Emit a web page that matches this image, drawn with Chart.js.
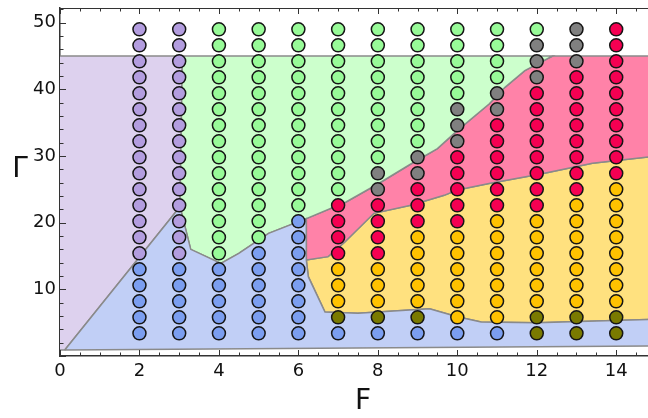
<!DOCTYPE html>
<html><head><meta charset="utf-8">
<script src="https://cdn.jsdelivr.net/npm/chart.js@4/dist/chart.umd.min.js"></script>
<style>html,body{margin:0;padding:0;background:#fff;overflow:hidden}#wrap{width:648px;height:418px;position:relative;overflow:hidden}</style>
</head><body><div id="wrap"><canvas id="c" width="656" height="418"></canvas></div>
<script>
// ---- data ----
const F_VALUES = [2,3,4,5,6,7,8,9,10,11,12,13,14];
const GAMMA_VALUES = [3.4,5.8,8.2,10.6,13.0,15.4,17.8,20.2,22.6,25.0,27.4,29.8,32.2,34.6,37.0,39.4,41.8,44.2,46.6,49.0];
// phase code of each point, one string per F column, bottom (Γ=3.4) to top (Γ=49)
// P purple, B blue, G green, K gray, R crimson, O gold, L olive
const PHASES = [
 "BBBBBPPPPPPPPPPPPPPP",
 "BBBBBPPPPPPPPPPPPPPP",
 "BBBBBGGGGGGGGGGGGGGG",
 "BBBBBBGGGGGGGGGGGGGG",
 "BBBBBBBBGGGGGGGGGGGG",
 "BLOOORRRRGGGGGGGGGGG",
 "BLOOORRRRKKGGGGGGGGG",
 "BLOOOOORRRKKGGGGGGGG",
 "BOOOOOORRRRRKKKGGGGG",
 "BOOOOOOORRRRRRKKGGGG",
 "LLOOOOOORRRRRRRRKKKG",
 "LLOOOOOOORRRRRRRRKKK",
 "LLOOOOOOOORRRRRRRRRR"
];
const X_TICKS = [0,2,4,6,8,10,12,14];
const Y_TICKS = [10,20,30,40,50];

// region outlines [F, Γ]
const REGION_PURPLE = [[-0.3,0.9],[0.12,0.9],[3.02,22.4],[3.08,45],[-0.3,45],[-0.3,0.9]];
const REGION_BLUE = [[0.12,0.9],[15,1.5],[15,5.5],[12.0,5.0],[10.6,5.1],[10.0,5.9],[9.3,7.1],[7.5,6.4],[6.67,6.6],[6.25,11.9],[6.2,14.4],[6.2,20.6],[5.25,18.4],[4.5,15.4],[4.05,13.9],[3.29,16.0],[3.02,22.4],[0.12,0.9]];
const REGION_GREEN = [[3.02,22.4],[3.29,16.0],[4.05,13.9],[4.5,15.4],[5.25,18.4],[6.2,20.6],[7.2,23.1],[8.0,25.8],[8.83,28.8],[9.5,31.1],[10.0,33.8],[10.8,37.8],[11.2,40.3],[11.7,42.8],[12.4,45],[3.08,45],[3.02,22.4]];
const REGION_PINK = [[6.2,20.6],[7.2,23.1],[8.0,25.8],[8.83,28.8],[9.5,31.1],[10.0,33.8],[10.8,37.8],[11.2,40.3],[11.7,42.8],[12.4,45],[15,45],[15,30.0],[13.4,28.9],[12.1,27.3],[10.83,25.9],[10.0,24.9],[9.67,24.1],[8.83,22.6],[7.9,21.4],[7.17,17.1],[6.75,14.9],[6.2,14.4],[6.2,20.6]];
const REGION_YELLOW = [[6.2,14.4],[6.75,14.9],[7.17,17.1],[7.9,21.4],[8.83,22.6],[9.67,24.1],[10.0,24.9],[10.83,25.9],[12.1,27.3],[13.4,28.9],[15,30.0],[15,5.5],[12.0,5.0],[10.6,5.1],[10.0,5.9],[9.3,7.1],[7.5,6.4],[6.67,6.6],[6.25,11.9],[6.2,14.4]];

// ---- styles ----
const POINT_COLORS = {P:'#b39ddf',B:'#7b9ef0',G:'#98fb98',K:'#808080',R:'#f50052',O:'#ffc200',L:'#7a7a00'};
const regionDefs = [
  [REGION_BLUE,'#c1cff6'],[REGION_GREEN,'#ccffcc'],[REGION_PINK,'#ff82a8'],
  [REGION_YELLOW,'#ffe17f'],[REGION_PURPLE,'#ddd1ee']
];

const datasets = [];
for (const code of Object.keys(POINT_COLORS)) {
  const pts = [];
  F_VALUES.forEach((f, i) => {
    GAMMA_VALUES.forEach((g, k) => { if (PHASES[i][k] === code) pts.push({x:f, y:g}); });
  });
  datasets.push({data: pts, showLine:false, pointRadius:6.5, pointHoverRadius:6.5,
    pointBackgroundColor: POINT_COLORS[code], pointBorderColor:'#151515', pointBorderWidth:1.5, order:0});
}
regionDefs.forEach(([poly, col]) => {
  datasets.push({data: poly.map(p => ({x:p[0], y:p[1]})), showLine:true, fill:'shape',
    backgroundColor: col, borderColor:'#8a8a8a', borderWidth:1.5, pointRadius:0, tension:0, clip:0, order:10});
});

const deco = {
  id:'deco',
  afterDatasetsDraw(chart){
    const {ctx, chartArea:a, scales:{x, y}} = chart;
    ctx.save();
    ctx.strokeStyle = '#333'; ctx.lineWidth = 1;
    ctx.beginPath();
    ctx.moveTo(a.left, a.top + 0.5); ctx.lineTo(a.right, a.top + 0.5);
    for (let v = 0; v <= 14.8; v += 0.5) {
      const px = Math.round(x.getPixelForValue(v)) + 0.5;
      const L = (v % 2 === 0) ? 6 : 3.5;
      ctx.moveTo(px, a.bottom); ctx.lineTo(px, a.bottom - L);
      ctx.moveTo(px, a.top); ctx.lineTo(px, a.top + L);
    }
    for (let v = 0; v <= 52; v += 2) {
      const py = Math.round(y.getPixelForValue(v)) + 0.5;
      const L = (v % 10 === 0) ? 6 : 3.5;
      ctx.moveTo(a.left, py); ctx.lineTo(a.left + L, py);
    }
    ctx.stroke();
    ctx.fillStyle = '#111'; ctx.font = '28px "DejaVu Sans"';
    ctx.textAlign = 'center'; ctx.textBaseline = 'middle';
    ctx.fillText('Γ', 20, 170);
    ctx.fillText('F', 363, 402);
    ctx.restore();
  }
};

new Chart(document.getElementById('c'), {
  type:'scatter',
  data:{datasets},
  options:{
    responsive:false, animation:false, devicePixelRatio:1,
    layout:{padding:{top:7, right:0, left:0, bottom:0}},
    plugins:{legend:{display:false}, tooltip:{enabled:false}},
    scales:{
      x:{type:'linear', min:0, max:14.8,
        afterBuildTicks: s => { s.ticks = X_TICKS.map(v => ({value:v})); },
        afterFit: s => { s.height = 62; s.paddingLeft = 0; s.paddingRight = 0; },
        grid:{display:false, drawTicks:false}, border:{display:true, color:'#333', width:1.5},
        ticks:{font:{family:'DejaVu Sans', size:18}, color:'#111', padding:5, maxRotation:0, autoSkip:false}},
      y:{type:'linear', min:0, max:52.2,
        afterBuildTicks: s => { s.ticks = Y_TICKS.map(v => ({value:v})); },
        afterFit: s => { s.width = 60; s.paddingTop = 0; s.paddingBottom = 0; },
        grid:{display:false, drawTicks:false}, border:{display:true, color:'#333', width:1.5},
        ticks:{font:{family:'DejaVu Sans', size:18}, color:'#111', padding:4, autoSkip:false}}
    }
  },
  plugins:[deco]
});
</script></body></html>
